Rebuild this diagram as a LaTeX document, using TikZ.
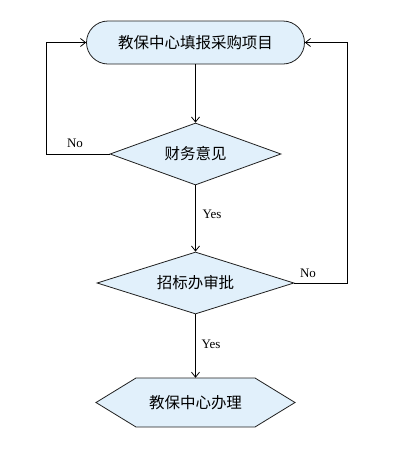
\documentclass[tikz,border=0pt]{standalone}
\usepackage{fontspec}
\setmainfont{Liberation Serif}
\newfontfamily\cjk{Noto Sans CJK SC}
\usetikzlibrary{shapes.geometric,arrows.meta}
\tikzset{
  boxfill/.style={fill=fillblue, draw=linegray, line width=0.8pt},
  flowarrow/.style={draw=black, line width=0.8pt, -{Straight Barb[length=5pt,width=8pt]}},
  cjktext/.style={font=\cjk\fontsize{15.5}{18}\selectfont},
  lbl/.style={font=\fontsize{13}{15}\selectfont, inner sep=0pt}
}
\definecolor{fillblue}{HTML}{E1F0FB}
\definecolor{linegray}{HTML}{202020}
\begin{document}
\begin{tikzpicture}[x=1pt,y=-1pt]
\useasboundingbox (0,0) rectangle (396,456);
\node[boxfill, cjktext, rectangle, rounded corners=21.5pt, minimum width=218pt, minimum height=43pt, inner sep=0pt] (start) at (195.5,42.5) {教保中心填报采购项目};
\node[boxfill, cjktext, diamond, minimum width=171pt, minimum height=62pt, inner sep=0pt, aspect=2.75] (d1) at (195.5,154) {财务意见};
\node[boxfill, cjktext, diamond, minimum width=197pt, minimum height=62pt, inner sep=0pt, aspect=3.2] (d2) at (195.5,283) {招标办审批};
\path[boxfill] (96,402.5) -- (136,378) -- (255,378) -- (295,402.5) -- (255,427) -- (136,427) -- cycle;
\node[cjktext, minimum width=199pt, minimum height=49pt, inner sep=0pt] (end) at (195.5,402.5) {教保中心办理};
\coordinate (lc) at (46,154);
\coordinate (lt) at (46,42.5);
\coordinate (rc) at (347,283);
\coordinate (rt) at (347,42.5);
\draw[flowarrow] (start.south) -- (d1.north);
\draw[flowarrow] (d1.south) -- (d2.north);
\draw[flowarrow] (d2.south) -- (end.north);
\draw[flowarrow] (d1.west) -- (lc) -- (lt) -- (start.west);
\draw[flowarrow] (d2.east) -- (rc) -- (rt) -- (start.east);
\node[lbl] (no1) at (75,143) {No};
\node[lbl] (no2) at (308,273) {No};
\node[lbl] (yes1) at (212,214) {Yes};
\node[lbl] (yes2) at (211,344) {Yes};
\end{tikzpicture}
\end{document}
